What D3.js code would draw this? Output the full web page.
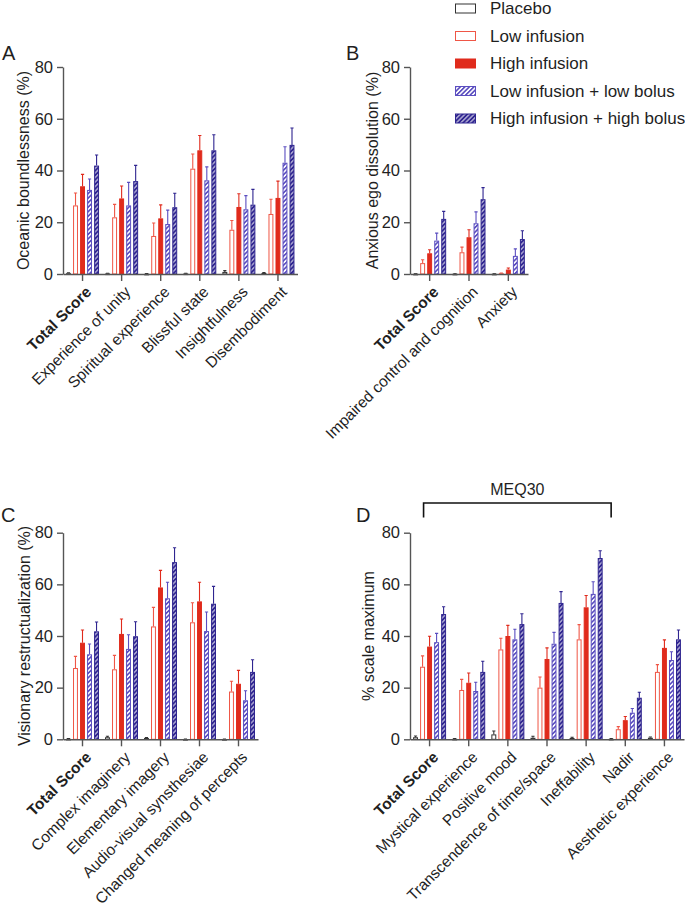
<!DOCTYPE html>
<html>
<head>
<meta charset="utf-8">
<script src="https://cdn.jsdelivr.net/npm/d3@7"></script>
<style>
  html, body { margin: 0; padding: 0; background: #fff; }
  svg { display: block; font-family: Arial, "Liberation Sans", sans-serif; }
</style>
</head>
<body>
<div id="chart"></div>
<script>
// ---- data ----
const SERIES = ['Placebo', 'Low infusion', 'High infusion', 'Low infusion + low bolus', 'High infusion + high bolus'];
const Y_TICKS = [0, 20, 40, 60, 80];

const A_CATEGORIES = ['Total Score', 'Experience of unity', 'Spiritual experience', 'Blissful state', 'Insightfulness', 'Disembodiment'];
const A_MEAN = [
  [0.3, 0.2, 0.1, 0.2, 0.8, 0.4],
  [26.5, 21.9, 14.7, 40.7, 17.1, 23.2],
  [33.9, 29.2, 21.5, 47.8, 25.9, 29.4],
  [32.5, 26.5, 19.3, 36.2, 25.0, 43.0],
  [41.9, 35.9, 25.8, 47.8, 26.8, 49.9]
];
const A_SEM = [
  [0.2, 0.1, 0.1, 0.1, 0.5, 0.2],
  [4.8, 5.0, 5.0, 5.7, 3.6, 5.7],
  [4.6, 4.8, 5.2, 5.7, 5.1, 6.5],
  [4.2, 8.9, 5.4, 5.2, 5.3, 6.2],
  [4.1, 6.1, 5.4, 6.0, 5.9, 6.5]
];

const B_CATEGORIES = ['Total Score', 'Impaired control and cognition', 'Anxiety'];
const B_MEAN = [
  [0.1, 0.1, 0.1],
  [4.2, 8.4, 0.3],
  [8.0, 14.2, 1.7],
  [12.9, 19.6, 7.0],
  [21.3, 28.9, 13.5]
];
const B_SEM = [
  [0, 0, 0],
  [1.3, 2.0, 0.1],
  [1.4, 2.9, 0.6],
  [2.9, 4.4, 2.7],
  [2.9, 4.5, 3.2]
];

const C_CATEGORIES = ['Total Score', 'Complex imaginery', 'Elementary imagery', 'Audio-visual synsthesiae', 'Changed meaning of percepts'];
const C_MEAN = [
  [0.2, 0.8, 0.5, 0.1, 0.1],
  [27.6, 27.1, 43.7, 45.3, 18.5],
  [37.4, 40.8, 58.8, 53.4, 21.5],
  [32.9, 35.0, 54.6, 41.9, 15.1],
  [41.8, 39.9, 68.6, 52.5, 26.1]
];
const C_SEM = [
  [0.1, 0.4, 0.2, 0, 0],
  [4.5, 5.4, 7.4, 7.6, 4.0],
  [4.9, 5.8, 6.6, 7.4, 5.2],
  [4.0, 5.5, 6.2, 7.4, 3.7],
  [3.6, 5.6, 5.6, 6.7, 4.7]
];

const D_CATEGORIES = ['Total Score', 'Mystical experience', 'Positive mood', 'Transcendence of time/space', 'Ineffability', 'Nadir', 'Aesthetic experience'];
const D_MEAN = [
  [0.8, 0.2, 1.9, 0.6, 0.5, 0.2, 0.6],
  [28.1, 19.1, 34.8, 20.0, 38.7, 3.9, 26.1],
  [35.9, 21.9, 40.0, 31.1, 51.1, 7.4, 35.4],
  [37.6, 18.7, 38.7, 37.0, 56.3, 10.3, 30.7],
  [48.5, 26.1, 44.6, 52.8, 70.2, 16.1, 38.7]
];
const D_SEM = [
  [0.5, 0.1, 1.3, 0.6, 0.3, 0.1, 0.3],
  [4.2, 4.1, 4.3, 4.1, 5.7, 1.0, 2.8],
  [4.0, 3.8, 4.1, 4.3, 4.6, 1.4, 3.1],
  [3.4, 3.4, 3.9, 4.4, 4.7, 1.6, 3.2],
  [2.8, 4.1, 4.0, 4.4, 2.8, 2.1, 3.6]
];
const D_BRACKET = 'MEQ30';

// ---- layout ----
const WIDTH = 685, HEIGHT = 908;
const TEXT = '#1f1f1f';
const AXIS = '#555';
const FONT = 'Arial, "Liberation Sans", sans-serif';
const STROKES = ['#333', '#ef5646', '#e02b1c', '#5b4ec0', '#2f2590'];
const FILLS = ['#fff', '#fff', '#e02b1c', 'url(#hatchLow)', 'url(#hatchHigh)'];

const svg = d3.select('#chart').append('svg')
  .attr('width', WIDTH)
  .attr('height', HEIGHT);

const defs = svg.append('defs');
function hatch(id, bg, line, lw) {
  const p = defs.append('pattern')
    .attr('id', id)
    .attr('patternUnits', 'userSpaceOnUse')
    .attr('width', 3.2).attr('height', 3.2)
    .attr('patternTransform', 'rotate(45)');
  p.append('rect').attr('width', 3.2).attr('height', 3.2).attr('fill', bg);
  p.append('line').attr('x1', 0.8).attr('y1', 0).attr('x2', 0.8).attr('y2', 3.2)
    .attr('stroke', line).attr('stroke-width', lw);
}
hatch('hatchLow', '#fff', '#5b4ec0', 1.7);
hatch('hatchHigh', '#2f2590', '#fff', 0.9);

const PANELS = [
  { letter: 'A', lx: 2, ly: 60, cats: A_CATEGORIES, mean: A_MEAN, sem: A_SEM,
    yLabel: 'Oceanic boundlessness  (%)', ylx: 23, left: 63, right: 297.5, top: 67, bottom: 274 },
  { letter: 'B', lx: 346, ly: 60, cats: B_CATEGORIES, mean: B_MEAN, sem: B_SEM,
    yLabel: 'Anxious ego dissolution (%)', ylx: 372, left: 410, right: 528, top: 67, bottom: 274 },
  { letter: 'C', lx: 1, ly: 522, cats: C_CATEGORIES, mean: C_MEAN, sem: C_SEM,
    yLabel: 'Visionary restructualization (%)', ylx: 24, left: 63, right: 258, top: 532.7, bottom: 739.3 },
  { letter: 'D', lx: 356, ly: 522, cats: D_CATEGORIES, mean: D_MEAN, sem: D_SEM,
    yLabel: '% scale maximum', ylx: 368, left: 410, right: 684, top: 532.7, bottom: 739.3, bracket: D_BRACKET }
];

PANELS.forEach(drawPanel);

function drawPanel(p) {
  const g = svg.append('g');

  const y = d3.scaleLinear().domain([0, 80]).range([p.bottom, p.top]);
  const x = d3.scaleBand().domain(p.cats).range([p.left, p.right]);
  const x1 = d3.scaleBand().domain(SERIES).range([-16.5, 16.5]).paddingInner(0.3);

  g.append('text')
    .attr('x', p.lx).attr('y', p.ly)
    .attr('font-size', 20).attr('fill', TEXT)
    .text(p.letter);

  // bars
  SERIES.forEach((s, si) => {
    const rows = p.cats.map((c, ci) => ({ c, v: p.mean[si][ci], e: p.sem[si][ci] }));
    const sg = g.append('g');
    // error bars (upper only)
    sg.selectAll('path.err').data(rows).enter().append('path')
      .attr('d', d => {
        const cx = x(d.c) + x.bandwidth() / 2 + x1(s) + x1.bandwidth() / 2;
        const yt = y(d.v + d.e);
        return `M${cx},${y(d.v)}V${yt}M${cx - 1.6},${yt}H${cx + 1.6}`;
      })
      .attr('fill', 'none')
      .attr('stroke', STROKES[si])
      .attr('stroke-width', 1.1);
    sg.selectAll('rect').data(rows).enter().append('rect')
      .attr('x', d => x(d.c) + x.bandwidth() / 2 + x1(s) + 0.5)
      .attr('y', d => y(d.v) + 0.5)
      .attr('width', x1.bandwidth() - 1)
      .attr('height', d => Math.max(0.6, p.bottom - y(d.v) - 0.5))
      .attr('fill', FILLS[si])
      .attr('stroke', STROKES[si])
      .attr('stroke-width', 1);
  });

  // y axis
  const ya = g.append('g')
    .attr('transform', `translate(${p.left},0)`)
    .call(d3.axisLeft(y).tickValues(Y_TICKS).tickSize(6).tickPadding(4).tickSizeOuter(0));
  ya.select('.domain').attr('stroke', AXIS).attr('stroke-width', 1.4);
  ya.selectAll('.tick line').attr('stroke', AXIS).attr('stroke-width', 1.4);
  ya.selectAll('.tick text').attr('font-size', 16.5).attr('fill', TEXT)
    .attr('font-family', FONT);

  // x axis
  const xa = g.append('g')
    .attr('transform', `translate(0,${p.bottom})`)
    .call(d3.axisBottom(x).tickSize(7).tickSizeOuter(0));
  xa.select('.domain').attr('stroke', AXIS).attr('stroke-width', 1.4);
  xa.selectAll('.tick line').attr('stroke', AXIS).attr('stroke-width', 1.4);
  xa.selectAll('.tick text')
    .attr('x', 0).attr('y', 0).attr('dy', '0.35em')
    .attr('transform', 'translate(6,15) rotate(-45)')
    .style('text-anchor', 'end')
    .attr('font-size', 15.5).attr('fill', TEXT)
    .attr('font-family', FONT)
    .attr('font-weight', d => d === 'Total Score' ? 'bold' : 'normal');

  // y label
  g.append('text')
    .attr('transform', `translate(${p.ylx},${(p.top + p.bottom) / 2}) rotate(-90)`)
    .attr('dy', '0.35em')
    .attr('text-anchor', 'middle')
    .attr('font-size', 16).attr('fill', TEXT)
    .text(p.yLabel);

  if (p.bracket) {
    const bx0 = x(p.cats[0]) + x.bandwidth() / 2 - 6;
    const bx1 = x(p.cats[4]) + x.bandwidth() / 2 + 25;
    g.append('path')
      .attr('d', `M${bx0},517.5V503H${bx1}V517.5`)
      .attr('fill', 'none').attr('stroke', '#111').attr('stroke-width', 1.6);
    g.append('text')
      .attr('x', (bx0 + bx1) / 2).attr('y', 495)
      .attr('text-anchor', 'middle')
      .attr('font-size', 16).attr('fill', TEXT)
      .text(p.bracket);
  }
}

// legend
const legend = svg.append('g').attr('transform', 'translate(455,0)');
const ROW_Y = d3.scalePoint().domain(SERIES).range([8.5, 118.5]);
SERIES.forEach((s, i) => {
  const row = legend.append('g').attr('transform', `translate(0,${ROW_Y(s)})`);
  row.append('rect')
    .attr('x', 0.5).attr('y', -4.5)
    .attr('width', 20).attr('height', 9)
    .attr('fill', FILLS[i])
    .attr('stroke', STROKES[i]).attr('stroke-width', 1);
  row.append('text')
    .attr('x', 35).attr('dy', '0.35em')
    .attr('font-size', 17).attr('fill', TEXT)
    .text(s);
});
</script>
</body>
</html>
